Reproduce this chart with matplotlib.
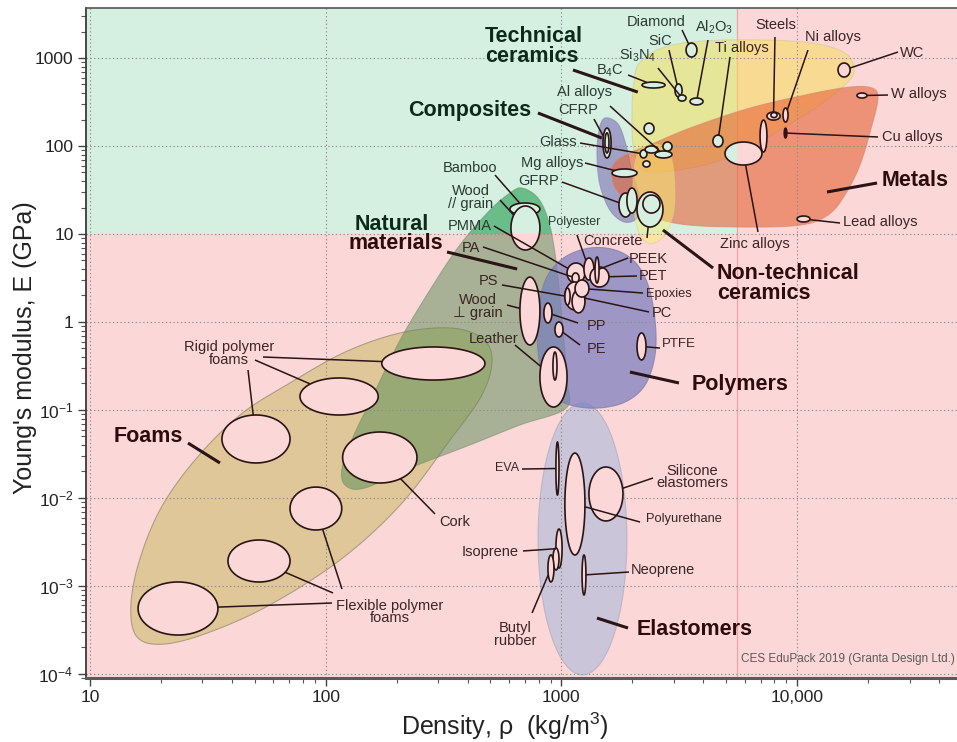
import numpy as np
import matplotlib
matplotlib.use("Agg")
import matplotlib.pyplot as plt
from matplotlib.patches import Rectangle, Polygon
from matplotlib.ticker import FixedLocator, FixedFormatter, LogLocator, NullFormatter

plt.rcParams['font.family'] = ['Liberation Sans', 'DejaVu Sans']
plt.rcParams['mathtext.fontset'] = 'custom'
plt.rcParams['mathtext.rm'] = 'Liberation Sans'
plt.rcParams['mathtext.it'] = 'Liberation Sans:italic'
plt.rcParams['mathtext.bf'] = 'Liberation Sans:bold'
plt.rcParams['mathtext.default'] = 'regular'

# ---------------------------------------------------------------- data
rho_limits = (9.62, 47700)          # kg/m3
E_limits = (9.0e-5, 3700)           # GPa
rho_zone_split = 5560
E_zone_split = 10

x_ticks = [10, 100, 1000, 10000]
x_tick_labels = ['10', '100', '1000', '10,000']
y_ticks = [1e-4, 1e-3, 1e-2, 1e-1, 1, 10, 100, 1000]
y_tick_labels = ['10$^{-4}$', '10$^{-3}$', '10$^{-2}$', '10$^{-1}$', '1', '10', '100', '1000']

# family envelopes (outline points, density kg/m3, modulus GPa)
foams_rho = [14.9, 16.0, 19.8, 27.9, 43.3, 70.6, 121, 207, 337, 460, 508, 460, 337, 207, 115, 58, 32.3, 20.8, 16.0]
foams_E = [5.3e-4, 1.73e-3, 7.3e-3, 0.027, 0.0877, 0.203, 0.456, 0.75, 0.855, 0.658, 0.37, 0.148, 0.0456,
           8.3e-3, 1.97e-3, 6.1e-4, 3.0e-4, 2.19e-4, 2.56e-4]
natural_rho = [681, 796, 885, 948, 1007, 1057, 1047, 667, 409, 228, 147, 122, 117, 129, 157, 207, 277, 371, 498, 605]
natural_E = [33.3, 25.6, 13.7, 5.07, 1.05, 0.219, 0.105, 0.0675, 0.040, 0.0219, 0.0130, 0.0137, 0.0208,
             0.0456, 0.137, 0.624, 2.31, 7.5, 18.7, 29.2]
polymers_rho = [811, 877, 1035, 1323, 1690, 2052, 2333, 2497, 2497, 2265, 1862, 1416, 1089, 921, 820, 789]
polymers_E = [1.78, 3.42, 5.48, 6.94, 6.58, 4.81, 2.63, 1.05, 0.422, 0.192, 0.123, 0.105, 0.114, 0.148, 0.285, 0.711]
composites_rho = [1531, 1738, 1879, 1995, 2158, 2094, 1845, 1607, 1458, 1416, 1445]
composites_E = [208, 178, 103, 50.7, 24.3, 15.2, 13.7, 18.7, 36.1, 79.1, 152]
tech_ceramics_rho = [2158, 2754, 4064, 6966, 11560, 15960, 17450, 15960, 11910, 8472, 5728, 3873, 2620, 2158,
                     2014, 1995, 2033]
tech_ceramics_E = [901, 1334, 1561, 1603, 1479, 1140, 731, 493, 270, 152, 83.2, 59.3, 50.7, 56.2, 103, 256, 533]
metals_rho = [1656, 1862, 2377, 3515, 6310, 11350, 16790, 20800, 22040, 20800, 18490, 15960, 13520, 10280,
              5728, 3184, 2158, 1738, 1640]
metals_E = [60.8, 79.1, 103, 160, 270, 390, 468, 456, 351, 173, 60.8, 27.7, 16.4, 12.6, 12.0, 13.0, 17.8, 30.0, 43.3]
nontech_rho = [2158, 2620, 2946, 3034, 2890, 2620, 2333, 2113, 2014, 2033]
nontech_E = [90.2, 103, 69.3, 24.3, 12.6, 8.55, 7.91, 11.1, 24.3, 53.3]
elastomers_rho_range = (796, 1897)
elastomers_E_range = (9.75e-5, 0.120)

# individual materials (density range, modulus range)
bubble_names = ['flex1', 'flex2', 'flex3', 'rigid1', 'rigid2', 'rigid3', 'cork',
                'bamboo', 'wood_par', 'wood_perp', 'leather', 'leather2',
                'eva', 'pu', 'silicone', 'isoprene', 'rubber2', 'butyl', 'neoprene',
                'pp', 'pe', 'ptfe', 'pa_big', 'pmma', 'pet', 'peek', 'pa_small', 'pc', 'pc2', 'ps', 'epoxy',
                'cfrp', 'cfrp2', 'mg', 'gfrp1', 'gfrp2', 'concrete', 'concrete2',
                'glass', 'al1', 'al2', 'al3', 'al4', 'ceram_c',
                'diamond', 'b4c', 'sic', 'si3n4', 'al2o3', 'ti', 'zinc', 'zinc_thin',
                'steel', 'steel2', 'ni', 'cu', 'wc', 'w', 'lead']
bubble_rho_min = [16.0, 38.5, 70.6, 36.3, 77.8, 173, 118,
                  605, 611, 667, 811, 921,
                  948, 1035, 1309, 948, 921, 877, 1224,
                  843, 939, 2094, 1057, 1247, 1323, 1389, 1110, 1035, 1110, 1035, 1143,
                  1502, 1531, 1640, 1755, 1897, 2094, 2218,
                  2158, 2265, 2497, 2698, 2218, 2244,
                  3381, 2198, 3034, 3126, 3515, 4395, 4945, 6966,
                  7450, 7745, 8717, 8810, 14920, 17950, 10000]
bubble_rho_max = [34.9, 70.6, 117, 70.6, 167, 474, 244,
                  811, 811, 811, 1057, 958,
                  977, 1259, 1825, 1007, 977, 930, 1271,
                  912, 1016, 2286, 1259, 1374, 1592, 1445, 1189, 1259, 1259, 1089, 1309,
                  1625, 1592, 2094, 1995, 2094, 2698, 2620,
                  2307, 2570, 2946, 2946, 2377, 2472,
                  3760, 2754, 3252, 3381, 3990, 4850, 7096, 7450,
                  8472, 8222, 9155, 9060, 16790, 19800, 11350]
bubble_E_min = [2.77e-4, 1.11e-3, 4.33e-3, 0.0250, 0.0877, 0.219, 0.0148,
                16.4, 6.58, 0.548, 0.108, 0.219,
                0.0108, 2.25e-3, 5.48e-3, 1.60e-3, 1.52e-3, 1.11e-3, 7.91e-4,
                0.975, 0.676, 0.370, 2.77, 3.0, 2.50, 2.77, 2.77, 1.37, 1.27, 1.56, 1.92,
                73.1, 83.2, 44.4, 15.6, 17.3, 12.0, 17.3,
                73.1, 83.2, 73.1, 87.7, 57.7, 137,
                1026, 456, 361, 324, 293, 97.5, 60.8, 85.5,
                197, 210, 187, 123, 608, 351, 13.7]
bubble_E_max = [1.11e-3, 3.33e-3, 0.0133, 0.0877, 0.231, 0.520, 0.0562,
                22.5, 20.8, 3.24, 0.520, 0.456,
                0.0433, 0.0324, 0.0225, 4.44e-3, 2.70e-3, 2.25e-3, 2.25e-3,
                1.64, 1.0, 0.750, 4.68, 5.34, 4.22, 5.48, 3.61, 2.85, 2.31, 2.43, 3.0,
                160, 141, 54.8, 29.2, 33.3, 30.0, 27.7,
                90.2, 100, 87.7, 111, 67.6, 182,
                1479, 533, 507, 380, 351, 133, 111, 197,
                243, 240, 270, 160, 877, 400, 16.0]
solid_bubbles = ['cu']

# ---------------------------------------------------------------- layout / style
PINK = '#fcd7d7'
GREEN = '#d5efe1'
INK = '#2a1414'

ENVELOPES = [  # rho, E, face, alpha, edge, extra tint inside the green zone
    (foams_rho, foams_E, '#dcc591', 0.88, '#a8957a', None),
    (natural_rho, natural_E, '#558c55', 0.50, '#6f8a66', ('#29bd6e', 0.40)),
    (polymers_rho, polymers_E, '#767dbf', 0.70, '#7d78a8', None),
    (composites_rho, composites_E, '#7d6eb4', 0.60, '#8880aa', None),
    (tech_ceramics_rho, tech_ceramics_E, '#f5de50', 0.50, '#c8c88a', None),
    (metals_rho, metals_E, '#e66437', 0.60, '#d08a70', None),
    (nontech_rho, nontech_E, '#faf06e', 0.45, '#d8cf88', None),
]

LABELS = [  # text, fx, fy, ha, size, bold
    ('Technical\nceramics', 0.4581, 0.9425, 'left', 15.5, True),
    ('Diamond', 0.6544, 0.9784, 'center', 10.5, False),
    ('SiC', 0.6596, 0.9507, 'center', 10.5, False),
    ('Al$_2$O$_3$', 0.7210, 0.9709, 'center', 10.5, False),
    ('Si$_3$N$_4$', 0.6332, 0.9299, 'center', 10.5, False),
    ('B$_4$C', 0.6016, 0.9067, 'center', 10.5, False),
    ('Ti alloys', 0.7526, 0.9403, 'center', 10.5, False),
    ('Steels', 0.7922, 0.9746, 'center', 10.5, False),
    ('Ni alloys', 0.8571, 0.9560, 'center', 10.5, False),
    ('WC', 0.9483, 0.9328, 'center', 10.5, False),
    ('W alloys', 0.9242, 0.8716, 'left', 10.5, False),
    ('Cu alloys', 0.9139, 0.8075, 'left', 10.5, False),
    ('Metals', 0.9139, 0.7418, 'left', 15.5, True),
    ('Lead alloys', 0.8691, 0.6799, 'left', 10.5, False),
    ('Zinc alloys', 0.7681, 0.6485, 'center', 10.5, False),
    ('Non-technical\nceramics', 0.7245, 0.5888, 'left', 15.5, True),
    ('Al alloys', 0.5729, 0.8739, 'center', 10.5, False),
    ('CFRP', 0.5654, 0.8485, 'center', 10.5, False),
    ('Composites', 0.4409, 0.8463, 'center', 15.5, True),
    ('Glass', 0.5419, 0.7993, 'center', 10.5, False),
    ('Mg alloys', 0.5356, 0.7694, 'center', 10.5, False),
    ('GFRP', 0.5195, 0.7418, 'center', 10.5, False),
    ('Polyester', 0.5603, 0.6799, 'center', 9, False),
    ('Concrete', 0.6045, 0.6522, 'center', 10.5, False),
    ('PEEK', 0.6234, 0.6261, 'left', 10.5, False),
    ('PET', 0.6349, 0.6000, 'left', 10.5, False),
    ('Epoxies', 0.6429, 0.5731, 'left', 9.3, False),
    ('PC', 0.6498, 0.5448, 'left', 10.5, False),
    ('PP', 0.5752, 0.5261, 'left', 10.5, False),
    ('PE', 0.5752, 0.4903, 'left', 10.5, False),
    ('PTFE', 0.6613, 0.4985, 'left', 9.5, False),
    ('Polymers', 0.6958, 0.4388, 'left', 15.5, True),
    ('Bamboo', 0.4414, 0.7619, 'center', 10.5, False),
    ('Wood\n// grain', 0.4420, 0.7172, 'center', 10.5, False),
    ('PMMA', 0.4409, 0.6746, 'center', 10.5, False),
    ('PA', 0.4420, 0.6425, 'center', 10.5, False),
    ('PS', 0.4621, 0.5925, 'center', 10.5, False),
    ('Wood\n\u22a5 grain', 0.4495, 0.5545, 'center', 10.5, False),
    ('Leather', 0.4684, 0.5060, 'center', 10.5, False),
    ('Natural', 0.3508, 0.6776, 'center', 15.5, True),
    ('materials', 0.3554, 0.6478, 'center', 15.5, True),
    ('Rigid polymer\nfoams', 0.1642, 0.4843, 'center', 10.5, False),
    ('Foams', 0.0712, 0.3604, 'center', 15.5, True),
    ('Cork', 0.4231, 0.2328, 'center', 10.5, False),
    ('Flexible polymer\nfoams', 0.3490, 0.0985, 'center', 10.5, False),
    ('EVA', 0.4834, 0.3134, 'center', 9, False),
    ('Silicone\nelastomers', 0.6958, 0.3000, 'center', 10.5, False),
    ('Polyurethane', 0.6429, 0.2373, 'left', 9.3, False),
    ('Isoprene', 0.4971, 0.1881, 'right', 10.5, False),
    ('Neoprene', 0.6257, 0.1612, 'left', 10.5, False),
    ('Butyl\nrubber', 0.4931, 0.0649, 'center', 10.5, False),
    ('Elastomers', 0.6326, 0.0724, 'left', 15.5, True),
]

LEADERS = [  # start fx, fy, target (bubble name or data point), linewidth
    (0.5591, 0.9075, (2110, 410), 2.2),
    (0.6843, 0.9672, 'diamond', 1.1), (0.6693, 0.9373, 'sic', 1.1),
    (0.7141, 0.9522, 'al2o3', 1.1), (0.6567, 0.9104, 'si3n4', 1.1),
    (0.6223, 0.9000, 'b4c', 1.1), (0.7394, 0.9269, 'ti', 1.1),
    (0.7910, 0.9567, 'steel', 1.1), (0.8289, 0.9373, 'ni', 1.1),
    (0.9323, 0.9343, 'wc', 1.1), (0.9208, 0.8701, 'w', 1.1),
    (0.9093, 0.8075, 'cu', 1.1),
    (0.9082, 0.7388, (13400, 30.0), 2.2),
    (0.8657, 0.6791, 'lead', 1.1), (0.7715, 0.6657, 'zinc', 1.1),
    (0.7199, 0.6119, (2698, 11.1), 2.2),
    (0.6016, 0.8537, 'al2', 1.1), (0.5832, 0.8343, 'cfrp', 1.1),
    (0.5189, 0.8433, (1486, 123), 2.2),
    (0.5672, 0.7985, 'glass', 1.1), (0.5729, 0.7687, 'mg', 1.1),
    (0.5465, 0.7403, 'gfrp1', 1.1), (0.5637, 0.6612, 'pmma', 1.1),
    (0.6441, 0.6567, 'concrete', 1.1), (0.6223, 0.6269, 'peek', 1.1),
    (0.6326, 0.6000, 'pet', 1.1), (0.6395, 0.5746, 'epoxy', 1.1),
    (0.6464, 0.5463, 'pc', 1.1), (0.5649, 0.5299, 'pp', 1.1),
    (0.5672, 0.4970, 'pe', 1.1), (0.6590, 0.4925, 'ptfe', 1.1),
    (0.6808, 0.4403, (1954, 0.270), 2.2),
    (0.4696, 0.7507, 'bamboo', 1.1), (0.4753, 0.7134, 'wood_par', 1.1),
    (0.4684, 0.6746, 'pa_big', 1.1), (0.4558, 0.6433, 'pa_small', 1.1),
    (0.4776, 0.5866, 'ps', 1.1), (0.4834, 0.5567, 'wood_perp', 1.1),
    (0.4925, 0.4970, 'leather', 1.1),
    (0.4145, 0.6358, (649, 4.0), 2.2),
    (0.2032, 0.4791, 'rigid3', 1.1), (0.1940, 0.4746, 'rigid2', 1.1),
    (0.1860, 0.4597, 'rigid1', 1.1),
    (0.1171, 0.3507, (35.6, 0.025), 2.2),
    (0.4007, 0.2448, 'cork', 1.1),
    (0.2824, 0.1119, 'flex1', 1.1), (0.2836, 0.1269, 'flex2', 1.1),
    (0.2939, 0.1328, 'flex3', 1.1),
    (0.5006, 0.3119, 'eva', 1.1), (0.6510, 0.2985, 'silicone', 1.1),
    (0.6361, 0.2328, 'pu', 1.1), (0.5017, 0.1896, 'isoprene', 1.1),
    (0.6234, 0.1582, 'neoprene', 1.1), (0.5121, 0.0970, 'butyl', 1.1),
    (0.6223, 0.0746, (1416, 4.32e-4), 2.2),
]


# ---------------------------------------------------------------- helpers
def smooth_closed(rho, E, n=16):
    P = np.column_stack([np.log10(rho), np.log10(E)])
    m = len(P)
    t = np.linspace(0, 1, n, endpoint=False)[:, None]
    segs = []
    for i in range(m):
        p0, p1, p2, p3 = P[i - 1], P[i], P[(i + 1) % m], P[(i + 2) % m]
        segs.append(0.5 * (2 * p1 + (-p0 + p2) * t + (2 * p0 - 5 * p1 + 4 * p2 - p3) * t ** 2
                           + (-p0 + 3 * p1 - 3 * p2 + p3) * t ** 3))
    out = np.vstack(segs)
    return np.column_stack([10 ** out[:, 0], 10 ** out[:, 1]])


def ellipse_outline(r0, r1, e0, e1, n=120):
    lx0, lx1, ly0, ly1 = np.log10(r0), np.log10(r1), np.log10(e0), np.log10(e1)
    t = np.linspace(0, 2 * np.pi, n, endpoint=False)
    lx = (lx0 + lx1) / 2 + (lx1 - lx0) / 2 * np.cos(t)
    ly = (ly0 + ly1) / 2 + (ly1 - ly0) / 2 * np.sin(t)
    return np.column_stack([10 ** lx, 10 ** ly])


# ---------------------------------------------------------------- figure
fig = plt.figure(figsize=(9.57, 7.42), dpi=100)
ax = fig.add_axes([86 / 957, 64 / 742, 871 / 957, 670 / 742])
ax.set_xscale('log')
ax.set_yscale('log')
ax.set_xlim(*rho_limits)
ax.set_ylim(*E_limits)
ax.set_autoscale_on(False)

# background zones
ax.add_patch(Rectangle((rho_limits[0], E_limits[0]), rho_limits[1] - rho_limits[0],
                       E_limits[1] - E_limits[0], fc=PINK, ec='none', zorder=0))
ax.add_patch(Rectangle((rho_limits[0], E_zone_split), rho_zone_split - rho_limits[0],
                       E_limits[1] - E_zone_split, fc=GREEN, ec='none', zorder=0.1))
ax.axvline(rho_zone_split, color='#f2a4a4', lw=0.9, zorder=0.2)


def green_clip():
    return Rectangle((rho_limits[0], E_zone_split), rho_zone_split - rho_limits[0],
                     E_limits[1] - E_zone_split, transform=ax.transData)


# envelopes
z = 1.0
el = ellipse_outline(elastomers_rho_range[0], elastomers_rho_range[1],
                     elastomers_E_range[0], elastomers_E_range[1])
for k, (rho, E, fc, al, ec, tint) in enumerate(ENVELOPES):
    xy = smooth_closed(rho, E)
    ax.add_patch(Polygon(xy, closed=True, fc=fc, ec=ec, lw=0.8, alpha=al, zorder=z + 0.01 * k))
    if tint is not None:
        tp = Polygon(xy, closed=True, fc=tint[0], ec='none', alpha=tint[1], zorder=z + 0.01 * k + 0.001)
        ax.add_patch(tp)
        tp.set_clip_path(green_clip())
    if k == 0:
        ax.add_patch(Polygon(el, closed=True, fc='#aab9dc', ec='#a8a4b8', lw=0.8, alpha=0.6, zorder=z + 0.005))

# grid
ax.set_axisbelow('line')
ax.grid(True, which='major', color='#8e8e8e', linestyle=(0, (1.2, 2.2)), linewidth=0.8)

# material bubbles
for i, name in enumerate(bubble_names):
    xy = ellipse_outline(bubble_rho_min[i], bubble_rho_max[i], bubble_E_min[i], bubble_E_max[i])
    zz = 2 + i * 0.003
    if name in solid_bubbles:
        ax.add_patch(Polygon(xy, closed=True, fc=INK, ec=INK, lw=1.0, zorder=zz))
        continue
    ax.add_patch(Polygon(xy, closed=True, fc=PINK, ec='none', zorder=zz))
    g = Polygon(xy, closed=True, fc=GREEN, ec='none', zorder=zz + 0.001)
    ax.add_patch(g)
    g.set_clip_path(green_clip())
    ax.add_patch(Polygon(xy, closed=True, fc='none', ec=INK, lw=1.2, zorder=zz + 0.002))

# leader lines
to_disp = ax.transData.transform
from_disp = ax.transData.inverted().transform
for fx, fy, target, lw in LEADERS:
    p0 = ax.transAxes.transform((fx, fy))
    if isinstance(target, str):
        i = bubble_names.index(target)
        r0, r1 = bubble_rho_min[i], bubble_rho_max[i]
        e0, e1 = bubble_E_min[i], bubble_E_max[i]
        c = to_disp((np.sqrt(r0 * r1), np.sqrt(e0 * e1)))
        corner = to_disp((r1, e1))
        a, b = corner[0] - c[0], corner[1] - c[1]
        d = p0 - c
        s = 1.0 / np.sqrt((d[0] / a) ** 2 + (d[1] / b) ** 2)
        p1 = c + d * s
    else:
        p1 = to_disp(target)
    q0, q1 = from_disp(p0), from_disp(p1)
    ax.plot([q0[0], q1[0]], [q0[1], q1[1]], color=INK, lw=lw, solid_capstyle='butt', zorder=3)

# labels
for text, fx, fy, ha, size, bold in LABELS:
    d = from_disp(ax.transAxes.transform((fx, fy)))
    in_green = d[0] < rho_zone_split and d[1] > E_zone_split
    if bold:
        col = '#0c2a1a' if in_green else '#2c0c0c'
    else:
        col = '#2a3a32' if in_green else '#3a2424'
    ax.text(fx, fy, text, transform=ax.transAxes, ha=ha, va='center', multialignment=ha,
            fontsize=size, fontweight='bold' if bold else 'normal', color=col,
            linespacing=0.9, zorder=4)

ax.text(0.9977, 0.0284, 'CES EduPack 2019 (Granta Design Ltd.)', transform=ax.transAxes,
        ha='right', va='center', fontsize=8.5, color='#5a5a5a', zorder=4)

# axes styling
ax.xaxis.set_major_locator(FixedLocator(x_ticks))
ax.xaxis.set_major_formatter(FixedFormatter(x_tick_labels))
ax.yaxis.set_major_locator(FixedLocator(y_ticks))
ax.yaxis.set_major_formatter(FixedFormatter(y_tick_labels))
ax.xaxis.set_minor_locator(LogLocator(base=10, subs=np.arange(2, 10), numticks=20))
ax.yaxis.set_minor_locator(LogLocator(base=10, subs=np.arange(2, 10), numticks=20))
ax.xaxis.set_minor_formatter(NullFormatter())
ax.yaxis.set_minor_formatter(NullFormatter())
ax.tick_params(which='major', direction='out', length=6, width=1.0, color='#444444',
               labelsize=12.5, labelcolor='#222222', pad=3, top=False, right=False)
ax.tick_params(which='minor', direction='out', length=3.5, width=0.8, color='#555555',
               top=False, right=False)
ax.spines['right'].set_visible(False)
ax.spines['left'].set_color('#3a3a3a')
ax.spines['left'].set_linewidth(1.3)
ax.spines['top'].set_color('#555555')
ax.spines['top'].set_linewidth(1.2)
ax.spines['bottom'].set_color('#5a5a5a')
ax.spines['bottom'].set_linewidth(2.2)

fig.text(0.0261, 0.5317, "Young's modulus, E (GPa)", rotation=90, ha='center', va='center',
         fontsize=18, color='#222222')
fig.text(0.5277, 0.021, 'Density, \u03c1  (kg/m$^3$)', ha='center', va='center',
         fontsize=18, color='#222222')

fig.savefig('out.png', dpi=100)
